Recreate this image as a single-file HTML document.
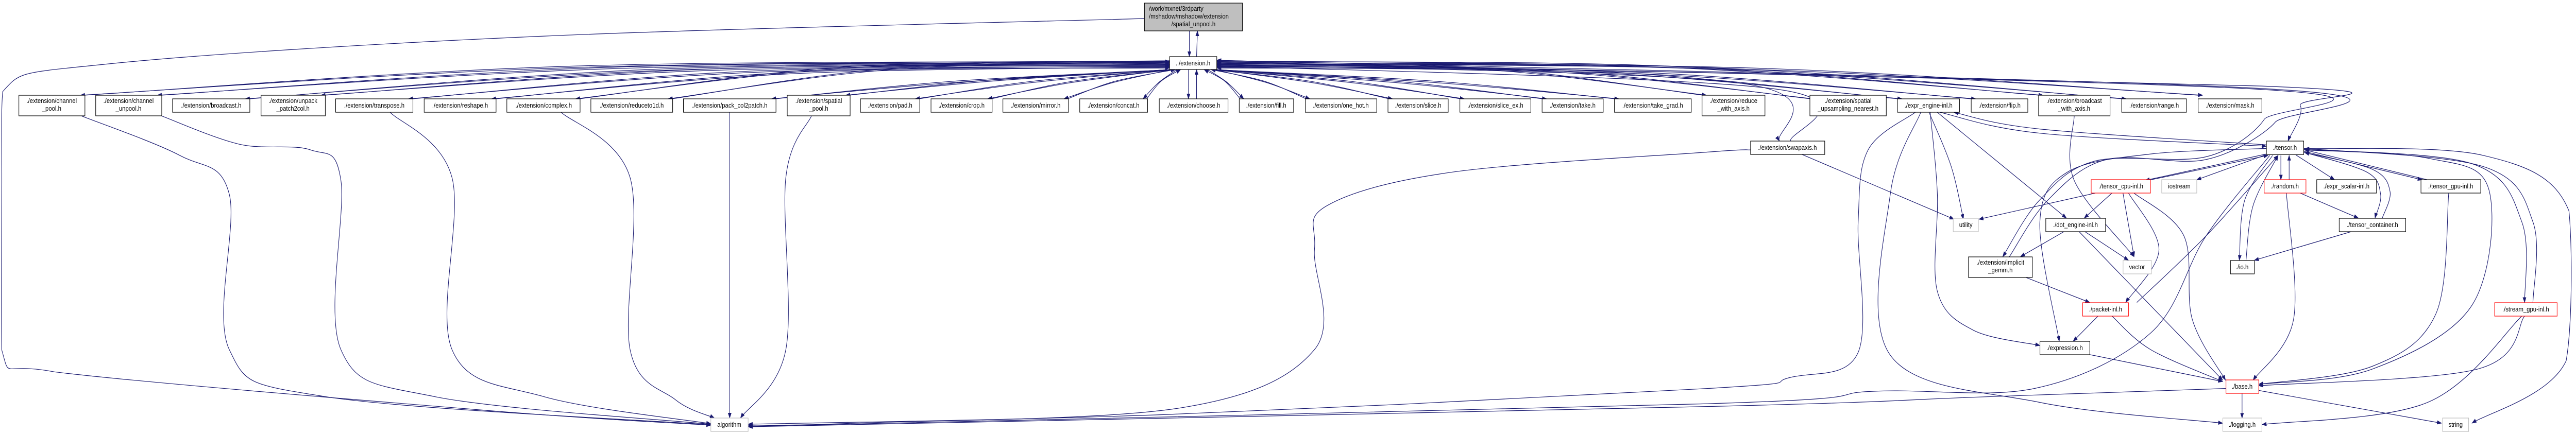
<!DOCTYPE html>
<html><head><meta charset="utf-8"><style>
html,body{margin:0;padding:0;background:#fff;width:100vw;height:100vh;overflow:hidden;}
svg{display:block;overflow:hidden;width:100vw;height:100vh;}
text{font-family:"Liberation Sans",Arial,sans-serif;font-size:13px;fill:#000;}
.n{fill:#fff;stroke:#000;stroke-width:1.2;}
.r{fill:#fff;stroke:#ff0000;stroke-width:1.2;}
.g{fill:#fff;stroke:#bfbfbf;stroke-width:1.2;}
</style></head><body>
<svg id="s" viewBox="0 0 5733 843" preserveAspectRatio="none" xmlns="http://www.w3.org/2000/svg">
<defs><marker id="a" markerWidth="11" markerHeight="8" refX="10" refY="4" orient="auto" markerUnits="userSpaceOnUse"><path d="M0,0 L11,4 L0,8z" fill="#191970"/></marker></defs>
<g id="edges" fill="none" stroke="#191970" stroke-width="1.2"></g>
<g text-anchor="middle">
<rect x="2547" y="6" width="218" height="54" fill="#bfbfbf" stroke="#000" stroke-width="1.2"/>
<text x="2557" y="21" text-anchor="start">/work/mxnet/3rdparty</text>
<text x="2557" y="36" text-anchor="start">/mshadow/mshadow/extension</text>
<text x="2656" y="51">/spatial_unpool.h</text>
<rect class="n" x="2603" y="110" width="105" height="25"/><text x="2655" y="127">../extension.h</text>

<rect class="n" x="42" y="185" width="147" height="40"/><text x="115" y="200">./extension/channel</text><text x="115" y="215">_pool.h</text>
<rect class="n" x="213" y="185" width="147" height="40"/><text x="286" y="200">./extension/channel</text><text x="286" y="215">_unpool.h</text>
<rect class="n" x="384" y="192" width="172" height="26"/><text x="470" y="209">./extension/broadcast.h</text>
<rect class="n" x="581" y="185" width="143" height="40"/><text x="652" y="200">./extension/unpack</text><text x="652" y="215">_patch2col.h</text>
<rect class="n" x="747" y="192" width="172" height="26"/><text x="833" y="209">./extension/transpose.h</text>
<rect class="n" x="944" y="192" width="160" height="26"/><text x="1024" y="209">./extension/reshape.h</text>
<rect class="n" x="1128" y="192" width="163" height="26"/><text x="1210" y="209">./extension/complex.h</text>
<rect class="n" x="1315" y="192" width="182" height="26"/><text x="1406" y="209">./extension/reduceto1d.h</text>
<rect class="n" x="1521" y="192" width="206" height="26"/><text x="1624" y="209">./extension/pack_col2patch.h</text>
<rect class="n" x="1752" y="185" width="140" height="40"/><text x="1822" y="200">./extension/spatial</text><text x="1822" y="215">_pool.h</text>
<rect class="n" x="1915" y="192" width="132" height="26"/><text x="1981" y="209">./extension/pad.h</text>
<rect class="n" x="2072" y="192" width="136" height="26"/><text x="2140" y="209">./extension/crop.h</text>
<rect class="n" x="2232" y="192" width="146" height="26"/><text x="2305" y="209">./extension/mirror.h</text>
<rect class="n" x="2403" y="192" width="151" height="26"/><text x="2478" y="209">./extension/concat.h</text>
<rect class="n" x="2580" y="192" width="153" height="26"/><text x="2656" y="209">./extension/choose.h</text>
<rect class="n" x="2758" y="192" width="121" height="26"/><text x="2818" y="209">./extension/fill.h</text>
<rect class="n" x="2905" y="192" width="159" height="26"/><text x="2984" y="209">./extension/one_hot.h</text>
<rect class="n" x="3089" y="192" width="134" height="26"/><text x="3156" y="209">./extension/slice.h</text>
<rect class="n" x="3249" y="192" width="158" height="26"/><text x="3328" y="209">./extension/slice_ex.h</text>
<rect class="n" x="3432" y="192" width="136" height="26"/><text x="3500" y="209">./extension/take.h</text>
<rect class="n" x="3593" y="192" width="171" height="26"/><text x="3678" y="209">./extension/take_grad.h</text>
<rect class="n" x="3788" y="185" width="140" height="40"/><text x="3858" y="200">./extension/reduce</text><text x="3858" y="215">_with_axis.h</text>
<rect class="n" x="4028" y="185" width="170" height="40"/><text x="4113" y="200">./extension/spatial</text><text x="4113" y="215">_upsampling_nearest.h</text>
<rect class="n" x="4223" y="192" width="138" height="26"/><text x="4292" y="209">./expr_engine-inl.h</text>
<rect class="n" x="4387" y="192" width="126" height="26"/><text x="4450" y="209">./extension/flip.h</text>
<rect class="n" x="4537" y="185" width="159" height="40"/><text x="4616" y="200">./extension/broadcast</text><text x="4616" y="215">_with_axis.h</text>
<rect class="n" x="4722" y="192" width="144" height="26"/><text x="4794" y="209">./extension/range.h</text>
<rect class="n" x="4892" y="192" width="142" height="26"/><text x="4963" y="209">./extension/mask.h</text>

<rect class="n" x="3896" y="274" width="165" height="26"/><text x="3978" y="291">./extension/swapaxis.h</text>
<rect class="n" x="5044" y="274" width="83" height="26"/><text x="5085" y="291">./tensor.h</text>
<rect class="r" x="4654" y="349" width="132" height="26"/><text x="4720" y="366">./tensor_cpu-inl.h</text>
<rect class="g" x="4811" y="349" width="78" height="26"/><text x="4850" y="366">iostream</text>
<rect class="r" x="5039" y="349" width="93" height="26"/><text x="5085" y="366">./random.h</text>
<rect class="n" x="5156" y="349" width="133" height="26"/><text x="5222" y="366">./expr_scalar-inl.h</text>
<rect class="n" x="5388" y="349" width="133" height="26"/><text x="5454" y="366">./tensor_gpu-inl.h</text>
<rect class="g" x="4347" y="424" width="56" height="26"/><text x="4375" y="441">utility</text>
<rect class="n" x="4553" y="424" width="133" height="26"/><text x="4619" y="441">./dot_engine-inl.h</text>
<rect class="n" x="5206" y="424" width="148" height="26"/><text x="5280" y="441">./tensor_container.h</text>
<rect class="n" x="4381" y="499" width="142" height="40"/><text x="4452" y="514">./extension/implicit</text><text x="4452" y="529">_gemm.h</text>
<rect class="g" x="4725" y="506" width="63" height="26"/><text x="4756" y="523">vector</text>
<rect class="n" x="4964" y="506" width="53" height="26"/><text x="4990" y="523">./io.h</text>
<rect class="r" x="4635" y="588" width="102" height="26"/><text x="4686" y="605">./packet-inl.h</text>
<rect class="r" x="5552" y="588" width="139" height="26"/><text x="5621" y="605">./stream_gpu-inl.h</text>
<rect class="n" x="4540" y="663" width="111" height="26"/><text x="4595" y="680">./expression.h</text>
<rect class="r" x="4954" y="738" width="73" height="26"/><text x="4990" y="755">./base.h</text>
<rect class="g" x="4947" y="812" width="87" height="26"/><text x="4990" y="829">./logging.h</text>
<rect class="g" x="5436" y="812" width="58" height="26"/><text x="5465" y="829">string</text>
<rect class="g" x="1582" y="812" width="83" height="26"/><text x="1623" y="829">algorithm</text>
</g>
</svg>
<script>
(function(){
var G=document.getElementById('edges');
function z3(x,y){return [3800+x*1.233,y*0.539];}
function z2(x,y){return [1900+x*1.212,y*0.539];}
function z1(x,y){return [x*1.212,y*0.539];}
function cl(p){return [Math.max(2,Math.min(5725,p[0])),Math.max(2,Math.min(840,p[1]))];}
function path(P){
  P=P.map(cl);
  var d='M'+P[0][0].toFixed(1)+','+P[0][1].toFixed(1);
  for(var i=0;i<P.length-1;i++){
    var p0=P[i-1]||P[i],p1=P[i],p2=P[i+1],p3=P[i+2]||P[i+1];
    var c1=cl([p1[0]+(p2[0]-p0[0])/6,p1[1]+(p2[1]-p0[1])/6]);
    var c2=cl([p2[0]-(p3[0]-p1[0])/6,p2[1]-(p3[1]-p1[1])/6]);
    d+=' C'+c1[0].toFixed(1)+','+c1[1].toFixed(1)+' '+c2[0].toFixed(1)+','+c2[1].toFixed(1)+' '+p2[0].toFixed(1)+','+p2[1].toFixed(1);
  }
  var e=document.createElementNS('http://www.w3.org/2000/svg','path');
  e.setAttribute('d',d);e.setAttribute('marker-end','url(#a)');G.appendChild(e);
}
var A3=function(a){path(a.map(function(p){return p.length==3?[p[0],p[1]]:z3(p[0],p[1]);}));};
path([[2647,60],[2647,110]]);path([[2663,110],[2665,60]]);
var R=[[42,147,185],[213,147,185],[384,172,192],[581,143,185],[747,172,192],[944,160,192],[1128,163,192],[1315,182,192],[1521,206,192],[1752,140,185],[1915,132,192],[2072,136,192],[2232,146,192],[2403,151,192],[2758,121,192],[2905,159,192],[3089,134,192],[3249,158,192],[3432,136,192],[3593,171,192],[3788,140,185],[4028,170,192],[4223,138,192],[4387,126,192],[4537,159,185],[4722,144,192],[4892,142,185]];
R.forEach(function(b,i){
  var x=b[0],w=b[1],t=b[2],cx=x+w/2,L=cx<2655;
  var far=Math.abs(cx-2655)>1100;
  var sx,sy,sx2,sy2;
  if(far){sx=L?2603:2708;sy=118+(i%6)*2.5;sx2=sx;sy2=sy+1.5;}
  else{sx=Math.max(2608,Math.min(2703,2655+(cx-2655)*0.2));sy=135;sx2=sx+(L?8:-8);sy2=135;}
  var ex=L?x+w-10:x+10;
  var mx=ex+(sx-ex)*0.45, my=sy+(t-sy)*(far?0.2:0.45);
  path([[sx,sy],[mx,my],[ex,t]]);
  var ex2=L?x+w-2:x+2;
  path([[ex2,t],[mx+(L?6:-6),my-3],[sx2,sy2]]);
});
path([[2645,135],[2645,192]]);path([[2663,192],[2663,135]]);
A3([[2708,125,0],[60,300],[130,508]]);
A3([[150,508],[120,320],[2708,128,0]]);
A3([[2708,122,0],[1000,310],[1070,380],[1048,508]]);
A3([[2708,120,0],[980,320],[1005,430],[900,565],[700,580],[600,720],[533,925]]);
A3([[545,925],[615,720],[720,575],[900,575],[1025,440],[1010,320],[2708,117,0]]);
A3([[420,405],[600,480],[1009,527]]);
A3([[1009,522],[600,465],[445,405]]);
A3([[400,405],[440,600],[462,790]]);
A3([[415,405],[648,786]]);
A3([[402,405],[415,700],[415,1050],[480,1190],[600,1245]]);
A3([[375,405],[290,540],[272,800],[272,1270],[150,1360],[0,1400],[2600,805,0],[1665,824,0]]);
A3([[385,405],[330,700],[330,1280],[600,1450],[930,1525]]);
A3([[170,556],[445,790]]);
path([z3(78,540),z2(1568,548),z2(1100,620),z2(870,740),z2(846,900),z2(846,1260),z2(600,1470),z2(0,1525),[1665,826]]);
A3([[662,418],[662,650],[770,925]]);
A3([[1009,555],[790,650]]);A3([[800,648],[1012,560]]);
A3([[1005,560],[883,648]]);
A3([[1035,560],[1035,648]]);A3([[1050,648],[1050,560]]);
A3([[1062,558],[1132,648]]);
A3([[1076,545],[1290,648]]);A3([[1300,648],[1078,540]]);
A3([[1076,548],[1190,620],[1215,700],[1205,786]]);A3([[1218,786],[1232,690],[1200,610],[1078,550]]);
A3([[1020,560],[970,720],[960,938]]);A3([[972,938],[985,740],[1030,560]]);
A3([[1076,538],[1380,590],[1470,800],[1475,1090]]);A3([[1490,1090],[1490,800],[1400,600],[1078,535]]);
A3([[1076,535],[1400,560],[1555,760],[1550,1300],[1380,1525]]);
A3([[1076,540],[1300,570],[1410,680],[1380,1100],[1200,1330],[995,1385]]);
A3([[1009,535],[800,555],[650,620],[600,800],[635,1230]]);
A3([[1015,560],[900,850],[800,1200],[590,1400],[300,1410],[0,1455],[1665,828,0]]);
A3([[775,1090],[900,850],[1030,560]]);
A3([[700,696],[490,790]]);
A3([[730,696],[680,786]]);
A3([[750,696],[770,925]]);
A3([[760,696],[815,900],[755,1090]]);
A3([[770,696],[860,850],[875,1150],[935,1370]]);
A3([[645,833],[565,925]]);
A3([[680,833],[760,938]]);
A3([[670,833],[930,1370]]);
A3([[575,1000],[690,1090]]);
A3([[705,1139],[660,1230]]);
A3([[730,1139],[800,1260],[930,1375]]);
A3([[690,1278],[930,1375]]);
A3([[1070,696],[1175,786]]);
A3([[1045,696],[1058,1150],[985,1370]]);
A3([[1165,833],[987,938]]);
A3([[1338,696],[1315,1130],[1200,1320],[995,1385]]);
A3([[1475,1139],[1390,1330],[995,1390]]);
A3([[1470,1139],[1300,1450],[1001,1530]]);
A3([[965,1417],[965,1507]]);
A3([[995,1407],[1325,1525]]);
A3([[936,1400],[500,1430],[0,1465],[1665,829,0]]);
path([[2547,36],z1(1000,130),z1(200,230),[6,178],[4,360],[4,680],z1(100,1340),z1(900,1480),[1582,826]]);
path([z1(150,418),z1(330,560),z1(421,700),z1(421,1260),z1(600,1430),[1582,825]]);
path([z1(297,418),z1(440,520),z1(570,540),z1(626,650),z1(626,1260),z1(800,1430),[1582,824]]);
path([z1(716,404),z1(830,640),z1(830,1260),z1(1000,1430),[1582,823]]);
path([z1(1030,404),z1(1157,640),z1(1157,1260),z1(1240,1440),[1590,812]]);
path([z1(1340,404),[1624,812]]);
path([z1(1490,418),z1(1443,640),z1(1443,1260),[1648,812]]);
})();
</script>
</body></html>
